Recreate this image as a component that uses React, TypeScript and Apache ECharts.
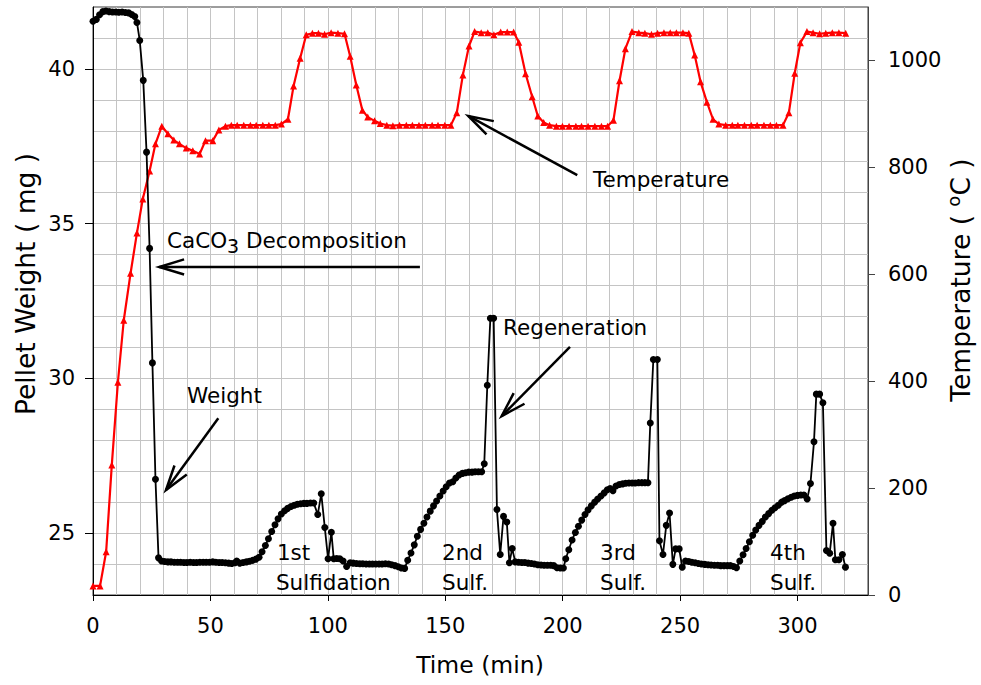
import React, { useEffect, useRef } from "react";
import * as echarts from "echarts";

// ---- data ----
const weightTime = [
  0, 1.4, 2.8, 4.2, 5.5, 6.9, 8.3, 9.7, 11.0, 12.4, 13.8, 15.2, 16.5, 17.8, 18.7, 19.9, 21.4, 22.8, 24.1, 25.3,
  26.6, 27.9, 29.2, 30.5, 31.9, 33.2, 34.6, 36.0, 37.3, 38.7, 40.0, 41.4, 42.8, 44.1, 45.5, 46.9, 48.2, 49.6, 51.0, 52.3,
  53.7, 55.0, 56.4, 57.8, 59.1, 60.5, 61.2, 62.5, 63.9, 65.3, 66.6, 68.0, 69.4, 70.7, 72.0, 73.4, 74.7, 76.1, 77.5, 78.8,
  80.2, 81.6, 82.9, 84.3, 85.7, 87.0, 88.4, 89.8, 91.1, 92.6, 94.0, 95.7, 97.2, 98.7, 100.1, 101.5, 102.5, 103.8, 105.1, 106.5,
  108.0, 109.5, 110.8, 112.2, 113.6, 114.9, 116.3, 117.7, 119.0, 120.4, 121.8, 123.1, 124.5, 125.9, 127.2, 128.6, 130.0, 131.3, 132.7, 134.0,
  135.4, 136.8, 138.1, 139.5, 140.9, 142.2, 143.6, 145.0, 146.3, 147.7, 149.1, 150.4, 151.8, 153.2, 154.5, 155.9, 157.3, 158.6, 160.0, 161.4,
  162.7, 164.1, 165.5, 166.6, 167.9, 169.2, 170.6, 172.0, 173.4, 174.8, 176.2, 177.3, 178.5, 179.8, 181.2, 182.6, 183.9, 185.3, 186.7, 188.0,
  189.4, 190.8, 192.1, 193.5, 194.9, 196.2, 197.6, 199.0, 200.3, 201.3, 202.6, 204.0, 205.4, 206.7, 208.1, 209.5, 210.8, 212.2, 213.6, 214.9,
  216.3, 217.7, 219.0, 220.2, 221.4, 222.7, 224.1, 225.5, 226.8, 228.2, 229.6, 230.9, 232.3, 233.7, 235.0, 236.3, 237.3, 238.6, 240.3, 241.2,
  242.7, 244.1, 245.5, 246.9, 248.1, 249.6, 250.9, 252.3, 253.7, 255.0, 256.4, 257.8, 259.1, 260.5, 261.9, 263.2, 264.6, 266.0, 267.3, 268.7,
  270.1, 271.4, 272.8, 274.0, 275.4, 276.8, 278.1, 279.5, 280.9, 282.2, 283.6, 285.0, 286.3, 287.7, 289.1, 290.4, 291.8, 293.2, 294.5, 295.9,
  297.3, 298.6, 300.0, 301.4, 302.7, 304.1, 305.5, 307.0, 308.0, 309.4, 310.8, 312.3, 313.7, 315.1, 316.1, 317.6, 319.1, 320.4,
];
const weightMg = [
  41.54, 41.6, 41.75, 41.85, 41.87, 41.85, 41.84, 41.84, 41.83, 41.84, 41.82, 41.81, 41.76, 41.69, 41.5, 40.92, 39.63, 37.31, 34.2, 30.5,
  26.74, 24.2, 24.1, 24.08, 24.07, 24.07, 24.06, 24.06, 24.06, 24.05, 24.05, 24.06, 24.05, 24.05, 24.06, 24.06, 24.06, 24.06, 24.07, 24.06,
  24.05, 24.05, 24.04, 24.03, 24.02, 24.04, 24.1, 24.03, 24.05, 24.07, 24.09, 24.12, 24.16, 24.22, 24.4, 24.6, 24.82, 25.05, 25.27, 25.46,
  25.62, 25.72, 25.8, 25.86, 25.9, 25.93, 25.95, 25.96, 25.96, 25.97, 25.97, 25.6, 26.27, 25.18, 24.17, 25.03, 24.17, 24.18, 24.17, 24.1,
  23.92, 24.04, 24.03, 24.02, 24.01, 24.01, 24.0, 24.0, 24.0, 24.0, 24.0, 24.0, 24.01, 24.0, 23.98, 23.95, 23.91, 23.87, 23.86, 24.12,
  24.36, 24.62, 24.9, 25.12, 25.32, 25.52, 25.71, 25.88, 26.04, 26.2, 26.36, 26.5, 26.62, 26.66, 26.78, 26.88, 26.93, 26.95, 26.97, 26.97,
  26.98, 26.98, 26.98, 27.24, 29.78, 31.94, 31.94, 25.76, 24.31, 25.54, 25.36, 24.04, 24.5, 24.07, 24.06, 24.05, 24.05, 24.03, 24.02, 24.0,
  23.98, 23.97, 23.96, 23.96, 23.96, 23.95, 23.88, 23.87, 23.87, 24.17, 24.46, 24.78, 25.02, 25.22, 25.42, 25.6, 25.75, 25.88, 26.0, 26.1,
  26.2, 26.3, 26.4, 26.44, 26.37, 26.52, 26.57, 26.59, 26.61, 26.62, 26.62, 26.62, 26.63, 26.63, 26.63, 26.63, 28.56, 30.61, 30.61, 24.75,
  24.31, 25.25, 25.65, 23.99, 24.49, 24.49, 23.9, 24.1, 24.08, 24.06, 24.04, 24.02, 24.0, 23.99, 23.98, 23.97, 23.96, 23.96, 23.95, 23.95,
  23.95, 23.95, 23.92, 23.88, 24.1, 24.3, 24.5, 24.72, 24.93, 25.1, 25.25, 25.38, 25.52, 25.63, 25.74, 25.82, 25.9, 26.0, 26.05, 26.11,
  26.16, 26.2, 26.22, 26.23, 26.23, 26.1, 26.6, 27.95, 29.49, 29.49, 29.21, 24.44, 24.35, 25.32, 24.14, 24.14, 24.31, 23.9,
];
const tempTime = [
  0, 3, 5.6, 8, 10.6, 13.1, 16, 18.7, 21.2, 24.1, 26.6, 29.3, 31.9, 34.4, 36.8, 39.7, 42.5, 45.4, 47.9, 51,
  53.6, 56.4, 58.9, 61.4, 64.2, 67, 69.5, 72.3, 74.9, 77.6, 80.2, 83, 85.4, 88.2, 90.8, 93.4, 96, 98.6, 101.4, 104.3,
  107.1, 109.5, 112.1, 114.7, 117, 119.9, 122.3, 125.1, 127.7, 130.5, 133.4, 136, 138.8, 141.5, 144.4, 146.9, 149.8, 152.4, 154.9, 157.5,
  160.1, 162.5, 165.3, 168.1, 170.7, 173.6, 176.4, 179.1, 181.3, 184.2, 187, 189.4, 191.9, 194.4, 197.3, 199.9, 202.7, 205.6, 208, 210.8,
  213.7, 216.5, 219.1, 221.6, 224.2, 226.7, 229.5, 232.4, 235, 237.8, 240.4, 243.1, 245.8, 248.4, 251.2, 253.7, 256.2, 258.7, 261.4, 264,
  266.5, 269.4, 272.2, 274.6, 277.4, 280.3, 282.8, 285.7, 288.4, 291, 293.8, 296.3, 298.8, 301.2, 304, 306.6, 309.4, 312, 314.8, 317.6,
  320.5,
];
const tempC = [
  17, 17, 81, 243, 398, 514, 602, 677, 741, 793, 844, 877, 863, 851, 844, 836, 831, 825, 850, 850,
  870, 877, 879, 879, 879, 879, 879, 879, 879, 879, 881, 890, 952, 1004, 1048, 1051, 1051, 1049, 1052, 1051,
  1050, 1008, 954, 907, 894, 887, 882, 879, 878, 879, 879, 879, 879, 879, 879, 879, 879, 879, 902, 973,
  1027, 1054, 1052, 1052, 1048, 1053, 1053, 1053, 1034, 975, 932, 896, 884, 879, 877, 877, 877, 877, 877, 877,
  877, 877, 877, 888, 962, 1022, 1054, 1052, 1051, 1049, 1051, 1052, 1052, 1052, 1052, 1051, 1010, 960, 922, 890,
  881, 879, 879, 879, 879, 879, 879, 879, 879, 879, 879, 902, 976, 1033, 1054, 1052, 1050, 1051, 1052, 1052,
  1051,
];
const timeTicks = [0, 50, 100, 150, 200, 250, 300];
const weightTicks = [25, 30, 35, 40];
const tempTicks = [0, 200, 400, 600, 800, 1000];

const FONT = "DejaVu Sans";

export default function App() {
  const ref = useRef<HTMLDivElement>(null);

  useEffect(() => {
    const chart = echarts.init(ref.current!, null, { renderer: "svg" });
    const weightData = weightTime.map((t, i) => [t, weightMg[i]]);
    const tempData = tempTime.map((t, i) => [t, tempC[i]]);
    const labelStyle = {
      fontSize: 21, color: "#000", fontFamily: FONT,
      formatter: (v: number) => String(v),
    };

    chart.setOption({
      animation: false,
      backgroundColor: "#ffffff",
      textStyle: { fontFamily: FONT },
      grid: {
        left: 93, right: 113, top: 7, bottom: 90,
        show: true, borderColor: "#3a3a3a", borderWidth: 1, backgroundColor: "transparent",
      },
      xAxis: [
        {
          type: "value", min: 0, max: 330, position: "bottom",
          axisLine: { show: true, onZero: false, lineStyle: { color: "#000", width: 1 } },
          axisTick: { show: true, customValues: timeTicks, length: 6, lineStyle: { color: "#000" } },
          axisLabel: { customValues: timeTicks, margin: 20, ...labelStyle },
          splitLine: { show: false },
        },
        {
          type: "value", min: 0, max: 330, interval: 10, position: "top",
          axisLine: { show: false }, axisTick: { show: false }, axisLabel: { show: false },
          splitLine: { show: true, showMinLine: false, showMaxLine: false, lineStyle: { color: "#c4c4c4", width: 1 } },
        },
      ],
      yAxis: [
        {
          type: "value", min: 23, max: 42, position: "left",
          axisLine: { show: true, onZero: false, lineStyle: { color: "#000", width: 1 } },
          axisTick: { show: true, customValues: weightTicks, length: 8, lineStyle: { color: "#000" } },
          axisLabel: { customValues: weightTicks, margin: 18, ...labelStyle },
          splitLine: { show: false },
        },
        {
          type: "value", min: 0, max: 1100, position: "right",
          axisLine: { show: true, onZero: false, lineStyle: { color: "#444", width: 1 } },
          axisTick: { show: true, customValues: tempTicks, length: 7, lineStyle: { color: "#444" } },
          axisLabel: { customValues: tempTicks, margin: 20, ...labelStyle },
          splitLine: { show: false },
        },
        {
          type: "value", min: 23, max: 42, interval: 1, position: "left",
          axisLine: { show: false }, axisTick: { show: false }, axisLabel: { show: false },
          splitLine: { show: true, showMinLine: false, showMaxLine: false, lineStyle: { color: "#c4c4c4", width: 1 } },
        },
      ],
      series: [
        {
          type: "line", name: "Temperature", xAxisIndex: 0, yAxisIndex: 1, data: tempData,
          symbol: "triangle", symbolSize: 7, showAllSymbol: true,
          lineStyle: { color: "#ff0000", width: 2.2 }, itemStyle: { color: "#ff0000" }, z: 3,
        },
        {
          type: "line", name: "Weight", xAxisIndex: 0, yAxisIndex: 0, data: weightData,
          symbol: "circle", symbolSize: 7, showAllSymbol: true,
          lineStyle: { color: "#000", width: 1.8 }, itemStyle: { color: "#000" }, z: 4,
        },
      ],
    });

    // ---- annotations (positions given in time / weight units) ----
    const px = (t: number, w: number) =>
      chart.convertToPixel({ xAxisIndex: 0, yAxisIndex: 0 }, [t, w]) as number[];

    const arrow = (tail: number[], tip: number[]) => {
      const a = px(tail[0], tail[1]);
      const b = px(tip[0], tip[1]);
      const ang = Math.atan2(a[1] - b[1], a[0] - b[0]);
      const len = 26;
      const spread = (17 * Math.PI) / 180;
      const w1 = [b[0] + len * Math.cos(ang + spread), b[1] + len * Math.sin(ang + spread)];
      const w2 = [b[0] + len * Math.cos(ang - spread), b[1] + len * Math.sin(ang - spread)];
      return [
        { type: "line", shape: { x1: a[0], y1: a[1], x2: b[0], y2: b[1] }, style: { stroke: "#000", lineWidth: 2.5 }, z: 10 },
        { type: "polyline", shape: { points: [w1, b, w2] }, style: { stroke: "#000", lineWidth: 2.5, fill: null }, z: 10 },
      ];
    };

    const label = (t: number, w: number, text: string, size = 21.5) => {
      const p = px(t, w);
      return {
        type: "text", x: p[0], y: p[1], z: 10,
        style: {
          text, fill: "#000", fontSize: size, fontFamily: FONT,
          align: "left", verticalAlign: "middle", textAlign: "left", textVerticalAlign: "middle",
        },
      };
    };

    const caco = px(31.5, 34.47);

    chart.setOption({
      graphic: [
        ...arrow([139.2, 33.6], [28.2, 33.6]),
        ...arrow([53.35, 28.71], [31.08, 26.39]),
        ...arrow([203.1, 31.02], [174.0, 28.78]),
        ...arrow([206.2, 36.57], [159.8, 38.48]),
        {
          type: "text", x: caco[0], y: caco[1], z: 10,
          style: {
            text: "{a|CaCO}{b|3}{a| Decomposition}",
            fill: "#000", fontFamily: FONT, fontSize: 21.5,
            align: "left", verticalAlign: "middle", textAlign: "left", textVerticalAlign: "middle",
            rich: {
              a: { fontSize: 21.5, fontFamily: FONT, fill: "#000", color: "#000", lineHeight: 30, verticalAlign: "middle" },
              b: { fontSize: 19, fontFamily: FONT, fill: "#000", color: "#000", lineHeight: 19, verticalAlign: "bottom" },
            },
          },
        },
        label(40.0, 29.46, "Weight"),
        label(174.6, 31.63, "Regeneration"),
        label(212.9, 36.41, "Temperature"),
        label(78.3, 24.36, "1st"),
        label(77.9, 23.42, "Sulfidation"),
        label(148.6, 24.36, "2nd"),
        label(148.6, 23.42, "Sulf."),
        label(215.9, 24.36, "3rd"),
        label(215.9, 23.42, "Sulf."),
        label(288.3, 24.36, "4th"),
        label(288.3, 23.42, "Sulf."),
        // axis titles
        {
          type: "text", x: 480, y: 665, z: 10,
          style: {
            text: "Time (min)", fill: "#000", fontSize: 23.5, fontFamily: FONT,
            align: "center", verticalAlign: "middle", textAlign: "center", textVerticalAlign: "middle",
          },
        },
        {
          type: "text", x: 25, y: 284, rotation: Math.PI / 2, z: 10,
          style: {
            text: "Pellet Weight ( mg )", fill: "#000", fontSize: 26.5, fontFamily: FONT,
            align: "center", verticalAlign: "middle", textAlign: "center", textVerticalAlign: "middle",
          },
        },
        {
          type: "text", x: 960, y: 280, rotation: Math.PI / 2, z: 10,
          style: {
            text: "{n|Temperature ( }{s|o}{n|C )}", fill: "#000", fontSize: 26.5, fontFamily: FONT,
            align: "center", verticalAlign: "middle", textAlign: "center", textVerticalAlign: "middle",
            rich: {
              n: { fontSize: 26.5, fontFamily: FONT, fill: "#000", color: "#000", lineHeight: 32, verticalAlign: "middle" },
              s: { fontSize: 18, fontFamily: FONT, fill: "#000", color: "#000", lineHeight: 18, verticalAlign: "top" },
            },
          },
        },
      ],
    });

    return () => chart.dispose();
  }, []);

  return (
    <div
      ref={ref}
      style={{ position: "absolute", left: 0, top: 0, width: 981, height: 685, background: "#fff" }}
    />
  );
}
